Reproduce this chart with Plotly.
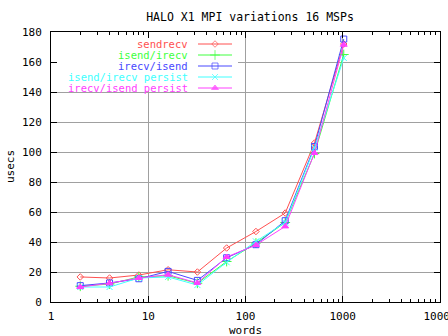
import plotly.graph_objects as go

words = [2, 4, 8, 16, 32, 64, 128, 256, 512, 1024]
sendrecv = [16.7, 16.0, 18.0, 21.5, 20.0, 36.0, 47.0, 59.3, 106.0, 172.0]
isend_irecv = [10.5, 12.0, 16.7, 17.5, 12.5, 27.0, 39.3, 53.0, 99.0, 165.0]
irecv_isend = [10.9, 12.7, 15.5, 20.4, 14.4, 29.5, 38.2, 54.2, 103.7, 175.3]
isend_irecv_persist = [10.0, 10.0, 16.0, 16.7, 11.3, 26.5, 40.4, 53.0, 102.7, 162.7]
irecv_isend_persist = [10.0, 12.5, 16.0, 18.2, 12.7, 30.0, 38.0, 50.4, 99.3, 171.5]

names = ["sendrecv", "isend/irecv", "irecv/isend", "isend/irecv persist", "irecv/isend persist"]
series = [sendrecv, isend_irecv, irecv_isend, isend_irecv_persist, irecv_isend_persist]
colors = ["#ff5050", "#40ff40", "#4848ff", "#40ffff", "#ff40ff"]
symbols = ["diamond-open", "cross-thin-open", "square-open", "x-thin-open", "triangle-up"]
msizes = [5, 7, 6, 6, 6]

x_ticks = [1, 10, 100, 1000, 10000]
x_ticktext = ["1", "10", "100", "1000", "10000"]

FONT = "DejaVu Sans Mono"
W, H = 448, 336
L, R, T, B = 51, 440, 32, 302
PW, PH = R - L, B - T

fig = go.Figure()

for nm, ys, c, s, ms in zip(names, series, colors, symbols, msizes):
    fig.add_trace(go.Scatter(
        x=words, y=ys, mode="lines+markers", name=nm, showlegend=False,
        line=dict(color=c, width=1),
        marker=dict(symbol=s, size=ms, color=c, line=dict(color=c, width=1)),
    ))

# gnuplot-style key: text right-aligned, then sample line with marker (pixel coords on overlay axes)
row_y = [44, 55, 66, 77, 88]
for nm, c, s, ms, ry in zip(names, colors, symbols, msizes, row_y):
    fig.add_trace(go.Scatter(
        x=[198, 215, 232], y=[ry, ry, ry], xaxis="x2", yaxis="y2",
        mode="lines+markers", showlegend=False, hoverinfo="skip",
        line=dict(color=c, width=1),
        marker=dict(symbol=s, size=[0, ms, 0], color=c, line=dict(color=c, width=1)),
    ))
    fig.add_annotation(x=190, y=ry, xref="x2", yref="y2", text=nm, showarrow=False,
                       xanchor="right", yanchor="middle",
                       font=dict(family=FONT, size=10.5, color=c))

# key area blanks the grid (gnuplot behaviour); shape coords are data values on log x
fig.add_shape(type="rect", xref="x", yref="y",
              x0=10 ** (1 / PW * 4), x1=10 ** ((238 - L) / PW * 4),
              y0=(B - 91) / PH * 180, y1=(PH - 1) / PH * 180,
              fillcolor="white", line=dict(width=0), layer="between")

# axis titles
fig.add_annotation(x=(246 - L) / PW, y=(B - 330) / PH, xref="paper", yref="paper",
                   text="words", showarrow=False, xanchor="center", yanchor="middle",
                   font=dict(family=FONT, size=11, color="black"))
fig.add_annotation(x=(10 - L) / PW, y=(B - 167) / PH, xref="paper", yref="paper",
                   text="usecs", showarrow=False, textangle=-90, xanchor="center",
                   yanchor="middle", font=dict(family=FONT, size=11, color="black"))

fig.update_layout(
    width=W, height=H, autosize=False,
    margin=dict(l=L, r=W - R, t=T, b=H - B, pad=0),
    paper_bgcolor="white", plot_bgcolor="white",
    font=dict(family=FONT, size=11, color="black"),
    title=dict(text="HALO X1 MPI variations 16 MSPs", x=250 / W, xanchor="center",
               y=1 - 17 / H, yanchor="middle", font=dict(family=FONT, size=11.5, color="black")),
    xaxis=dict(type="log", range=[0, 4], tickvals=x_ticks, ticktext=x_ticktext,
               showgrid=True, gridcolor="#a0a0a0", gridwidth=1,
               ticks="inside", ticklen=6, tickcolor="black", tickwidth=1,
               minor=dict(ticks="inside", ticklen=3, tickcolor="black", tickwidth=1,
                          dtick="D1", showgrid=False),
               showline=True, linecolor="black", linewidth=1, mirror="allticks",
               zeroline=False, ticklabelstandoff=4, automargin=False,
               ticklabeloverflow="allow"),
    yaxis=dict(range=[0, 180], dtick=20, showgrid=True, gridcolor="#a0a0a0", gridwidth=1,
               ticks="inside", ticklen=6, tickcolor="black", tickwidth=1,
               showline=True, linecolor="black", linewidth=1, mirror="allticks",
               zeroline=False, ticklabelstandoff=6, automargin=False),
    xaxis2=dict(range=[L, R], overlaying="x", visible=False, fixedrange=True),
    yaxis2=dict(range=[B, T], overlaying="y", visible=False, fixedrange=True),
)

fig.write_html("out.html")
